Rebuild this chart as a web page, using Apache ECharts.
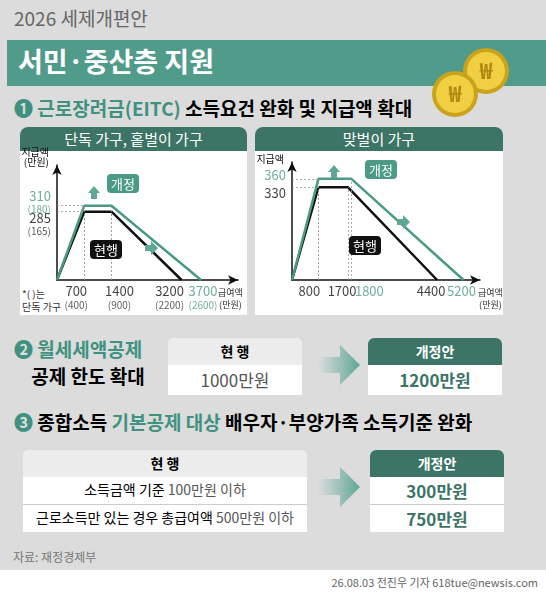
<!DOCTYPE html><html><head><meta charset="utf-8">
<script src="https://cdn.jsdelivr.net/npm/echarts@6/dist/echarts.min.js"></script>
<style>
body{margin:0;width:546px;height:597px;overflow:hidden;background:#dcdcdc;font-family:"Noto Sans CJK KR",sans-serif;position:relative}
.a{position:absolute;white-space:nowrap}
.g{color:#3f9280}
.box{position:absolute;background:#fff}
.hd{position:absolute;left:0;right:0;top:0;text-align:center;font-weight:bold}
</style></head><body>
<div class="a" style="left:14px;top:4px;font-size:19px;color:#666">2026 세제개편안</div>
<div class="a" style="left:7px;top:40px;width:539px;height:46px;background:#519b8b"></div>
<div class="a" style="left:18px;top:41px;font-size:27px;font-weight:bold;color:#fff">서민·중산층 지원</div>
<svg class="a" style="left:420px;top:42px;z-index:4" width="90" height="80">
<circle cx="66" cy="29" r="23" fill="#caa21c"/><circle cx="66" cy="29" r="19" fill="#f0d042"/><text x="66" y="37" font-size="22" text-anchor="middle" fill="#b08a10" font-weight="bold">₩</text>
<circle cx="35" cy="52" r="23" fill="#caa21c"/><circle cx="35" cy="52" r="19" fill="#f0d042"/><text x="35" y="60" font-size="22" text-anchor="middle" fill="#b08a10" font-weight="bold">₩</text></svg>
<div class="a" style="left:14px;top:94px;font-size:19px;font-weight:bold"><span class="g">❶ 근로장려금(EITC)</span> 소득요건 완화 및 지급액 확대</div>

<div class="box" style="left:20px;top:127px;width:227px;height:188px;border-radius:8px 8px 0 0"><div class="hd" style="height:24px;background:#3c7466;color:#fff;font-size:15px;line-height:24px;border-radius:8px 8px 0 0;font-weight:normal">단독 가구, 홑벌이 가구</div></div>
<div class="box" style="left:255px;top:127px;width:248px;height:188px;border-radius:8px 8px 0 0"><div class="hd" style="height:24px;background:#3c7466;color:#fff;font-size:15px;line-height:24px;border-radius:8px 8px 0 0;font-weight:normal">맞벌이 가구</div></div>
<div class="a" style="left:22px;top:287px;font-size:10px;line-height:13px;color:#333">*( )는<br>단독 가구</div>
<div class="a" style="left:218px;top:287px;font-size:9px;line-height:12px;color:#333;text-align:center;z-index:3">급여액<br>(만원)</div>
<div class="a" style="left:478px;top:287px;font-size:9px;line-height:12px;color:#333;text-align:center;z-index:3">급여액<br>(만원)</div>

<div class="a" style="left:14px;top:335px;font-size:19px;font-weight:bold;line-height:27px"><span class="g">❷ 월세세액공제</span><br>&nbsp;&nbsp;&nbsp;&nbsp;공제 한도 확대</div>
<div class="box" style="left:168px;top:338px;width:134px;height:57px;border-radius:6px 6px 0 0"><div class="hd" style="height:27px;background:#ececec;line-height:27px;font-size:14px;border-radius:6px 6px 0 0">현 행</div><div class="a" style="top:29px;width:134px;text-align:center;font-size:17px;color:#555">1000만원</div></div>
<div class="box" style="left:368px;top:338px;width:134px;height:57px;border-radius:6px 6px 0 0"><div class="hd" style="height:27px;background:#3c7466;color:#fff;line-height:27px;font-size:14px;border-radius:6px 6px 0 0">개정안</div><div class="a" style="top:29px;width:134px;text-align:center;font-size:17px;color:#3c7466;font-weight:bold">1200만원</div></div>
<svg class="a" style="left:318px;top:345px" width="42" height="40"><defs><linearGradient id="ga"><stop offset="0" stop-color="#5fa896" stop-opacity="0"/><stop offset="1" stop-color="#5fa896"/></linearGradient></defs><polygon points="0,12 22,12 22,0 42,20 22,40 22,28 0,28" fill="url(#ga)"/></svg>

<div class="a" style="left:14px;top:408px;font-size:19px;font-weight:bold"><span class="g">❸</span> 종합소득 <span class="g">기본공제 대상</span> 배우자·부양가족 소득기준 완화</div>
<div class="box" style="left:23px;top:450px;width:284px;height:82px;border-radius:6px 6px 0 0"><div class="hd" style="height:27px;background:#ececec;line-height:27px;font-size:14px;border-radius:6px 6px 0 0">현 행</div>
<div class="a" style="top:29px;width:284px;text-align:center;font-size:14px">소득금액 기준 <span style="color:#555">100만원 이하</span></div>
<div class="a" style="top:54px;width:284px;height:1px;background:#ccc"></div>
<div class="a" style="top:57px;width:284px;text-align:center;font-size:14px">근로소득만 있는 경우 총급여액 <span style="color:#555">500만원 이하</span></div></div>
<svg class="a" style="left:318px;top:467px" width="42" height="40"><polygon points="0,12 22,12 22,0 42,20 22,40 22,28 0,28" fill="url(#ga)"/></svg>
<div class="box" style="left:370px;top:450px;width:134px;height:82px;border-radius:6px 6px 0 0"><div class="hd" style="height:27px;background:#3c7466;color:#fff;line-height:27px;font-size:14px;border-radius:6px 6px 0 0">개정안</div>
<div class="a" style="top:28px;width:134px;text-align:center;font-size:17px;color:#3c7466;font-weight:bold">300만원</div>
<div class="a" style="top:54px;width:134px;height:1px;background:#ccc"></div>
<div class="a" style="top:56px;width:134px;text-align:center;font-size:17px;color:#3c7466;font-weight:bold">750만원</div></div>
<div class="a" style="left:13px;top:548px;font-size:12px;color:#777">자료: 재정경제부</div>
<div class="a" style="left:0;top:570px;width:546px;height:27px;background:#fff"></div>
<div class="a" style="right:8px;top:574px;font-size:11px;color:#666">26.08.03 전진우 기자 618tue@newsis.com</div>

<div class="a" style="left:107px;top:174px;background:#4a9a86;color:#fff;font-size:13px;padding:0 4px;border-radius:4px;z-index:3">개정</div>
<div class="a" style="left:90px;top:240px;background:#111;color:#fff;font-size:13px;padding:0 4px;border-radius:4px;z-index:3">현행</div>
<div class="a" style="left:365px;top:160px;background:#4a9a86;color:#fff;font-size:13px;padding:0 4px;border-radius:4px;z-index:3">개정</div>
<div class="a" style="left:349px;top:236px;background:#111;color:#fff;font-size:13px;padding:0 4px;border-radius:4px;z-index:3">현행</div>
<svg class="a" style="left:0;top:0;z-index:3" width="546" height="320">
<g fill="#5fa896"><polygon points="94,186 88,193 91,193 91,199 97,199 97,193 100,193"/>
<polygon points="158,248 151,241 151,245 145,245 145,251 151,251 151,255"/>
<polygon points="334,165 328,172 331,172 331,178 337,178 337,172 340,172"/>
<polygon points="410,222 403,215 403,219 397,219 397,225 403,225 403,229"/></g></svg>

<div id="c" class="a" style="left:0;top:0;width:546px;height:597px;z-index:2"></div>
<script>
const leftCur=[[0,0],[700,285],[1400,285],[3200,0]];
const leftNew=[[0,0],[700,310],[1400,310],[3700,0]];
const rightCur=[[0,0],[800,330],[1700,330],[4400,0]];
const rightNew=[[0,0],[800,360],[1800,360],[5200,0]];
const leftXTicks=[700,1400,3200,3700];
const leftXSub=['(400)','(900)','(2200)','(2600)'];
const leftYTicks=[285,310];
const leftYSub=['(165)','(180)'];
const rightXTicks=[800,1700,1800,4400,5200];
const rightYTicks=[330,360];
const greenVals=[3700,310,1800,5200,360];
const G='#4a9a86';
// label nudges in pixels so crowded labels stay readable
const shiftX={700:-8,1400:8,3200:-12,3700:2,800:-9,1700:-6,1800:18,4400:-6,5200:-2};
const shiftY={285:12,310:-4,330:6,360:-4};
const ch=echarts.init(document.getElementById('c'));
const rich={k:{fontSize:13,color:'#111',lineHeight:15},g:{fontSize:13,color:G,lineHeight:15},s:{fontSize:10,color:'#333',lineHeight:12},t:{fontSize:10,color:G,lineHeight:12}};
function lab(v,sub){const g=greenVals.includes(v);let s='{'+(g?'g':'k')+'|'+v+'}';if(sub)s+='\n{'+(g?'t':'s')+'|'+sub+'}';return s;}
function xLabels(i,ticks,subs){return {type:'scatter',xAxisIndex:i,yAxisIndex:i,symbolSize:0,silent:true,z:5,
 data:ticks.map((v,k)=>({value:[v,0],label:{show:true,position:'bottom',distance:4,offset:[shiftX[v]||0,0],formatter:lab(v,subs?subs[k]:null),rich:rich,align:'center'}}))};}
function yLabels(i,ticks,subs){return {type:'scatter',xAxisIndex:i,yAxisIndex:i,symbolSize:0,silent:true,z:5,
 data:ticks.map((v,k)=>({value:[0,v],label:{show:true,position:'left',distance:6,offset:[0,shiftY[v]||0],formatter:lab(v,subs?subs[k]:null),rich:rich}}))};}
function xax(i,max){return {gridIndex:i,type:'value',min:0,max:max,splitLine:{show:false},
 axisLine:{lineStyle:{color:'#111',width:1.5},symbol:['none','arrow'],symbolSize:[7,10]},axisTick:{show:false},axisLabel:{show:false}};}
function yax(i,max,name){return {gridIndex:i,type:'value',min:0,max:max,splitLine:{show:false},
 axisLine:{lineStyle:{color:'#111',width:1.5},symbol:['none','arrow'],symbolSize:[7,10]},axisTick:{show:false},axisLabel:{show:false},
 name:name,nameLocation:'end',nameGap:-2,nameTextStyle:{fontSize:10,color:'#111',align:'right',verticalAlign:'bottom',padding:[0,8,0,0]}};}
function guides(pts){const d=[];for(let k=1;k<3;k++){d.push([{coord:[pts[k][0],0]},{coord:[pts[k][0],pts[k][1]]}]);}
 d.push([{coord:[0,pts[1][1]]},{coord:[pts[1][0],pts[1][1]]}]);return d;}
function ser(i,data,color,ml){return {type:'line',xAxisIndex:i,yAxisIndex:i,data:data,symbol:'none',lineStyle:{color:color,width:2.5},
 markLine:{silent:true,symbol:'none',label:{show:false},lineStyle:{type:[2,2],color:'#999',width:0.8},data:ml}};}
ch.setOption({animation:false,textStyle:{fontFamily:'Noto Sans CJK KR'},
 grid:[{left:57,top:165,width:181,height:115},{left:292,top:162,width:188,height:118}],
 xAxis:[xax(0,4650),xax(1,5700)],
 yAxis:[yax(0,480,'지급액\n(만원)'),yax(1,420,'지급액')],
 series:[ser(0,leftCur,'#111',guides(leftCur)),ser(0,leftNew,G,guides(leftNew)),ser(1,rightCur,'#111',guides(rightCur)),ser(1,rightNew,G,guides(rightNew)),
  xLabels(0,leftXTicks,leftXSub),yLabels(0,leftYTicks,leftYSub),xLabels(1,rightXTicks,null),yLabels(1,rightYTicks,null)]});
</script></body></html>
